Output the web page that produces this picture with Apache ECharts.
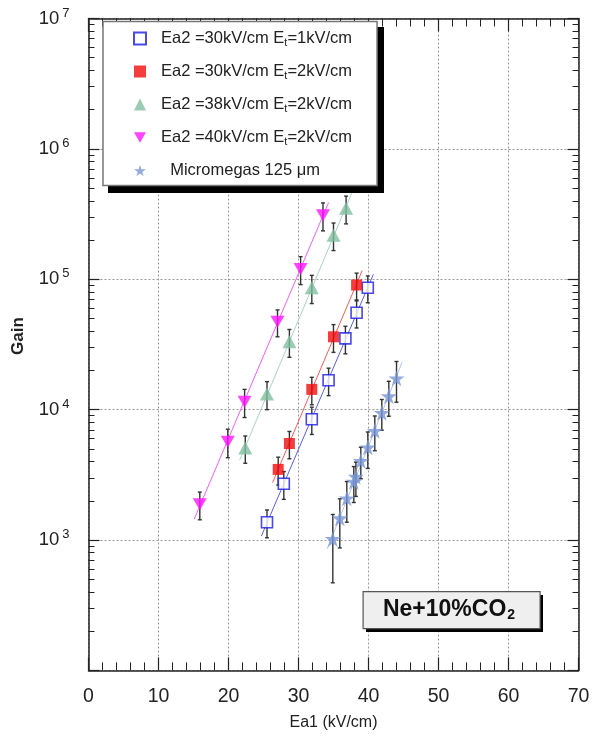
<!DOCTYPE html>
<html>
<head>
<meta charset="utf-8">
<script src="https://cdn.jsdelivr.net/npm/echarts@6/dist/echarts.min.js"></script>
<style>
  html, body { margin: 0; padding: 0; background: #fff; }
  #chart { width: 593px; height: 737px; }
</style>
</head>
<body>
<div id="chart"></div>
<script>
// 数据
var ea2_30_et1_x = [25.5, 27.9, 31.9, 34.3, 36.7, 38.3, 39.9];
var ea2_30_et1_y = [1370, 2700, 8450, 16800, 35200, 55300, 86000];
var ea2_30_et1_err = [330, 650, 2000, 4000, 8400, 13000, 20000];

var ea2_30_et2_x = [27.1, 28.7, 31.9, 35.0, 38.3];
var ea2_30_et2_y = [3480, 5500, 14300, 36200, 90400];
var ea2_30_et2_err = [840, 1300, 3400, 8700, 21000];

var ea2_38_et2_x = [22.4, 25.5, 28.7, 31.9, 35.0, 36.8];
var ea2_38_et2_y = [5080, 13200, 33200, 86100, 218000, 350000];
var ea2_38_et2_err = [1200, 3200, 8000, 21000, 52000, 84000];

var ea2_40_et2_x = [15.9, 19.9, 22.3, 27.0, 30.3, 33.5];
var ea2_40_et2_y = [1880, 5680, 11500, 47200, 120000, 310000];
var ea2_40_et2_err = [450, 1400, 2800, 11000, 29000, 75000];

var mm_x = [34.9, 35.9, 36.9, 37.9, 38.2, 38.9, 39.9, 40.9, 41.9, 42.9, 44.0];
var mm_y = [1020, 1470, 2090, 2800, 3060, 4050, 5140, 6890, 9460, 12700, 17400];
var mm_err = [550, 600, 720, 860, 900, 1100, 1600, 2050, 2500, 3800, 6000];

var xTicks = [0, 10, 20, 30, 40, 50, 60, 70];
var yMinor = [];
for (var d = 100; d < 1e7; d *= 10) {
    for (var m = 2; m <= 9; m++) yMinor.push(m * d);
}

var starPath = 'path://M50,0 L61,35 L98,35 L68,57 L79,91 L50,70 L21,91 L32,57 L2,35 L39,35 Z';
var downTri = 'path://M0,0 L100,0 L50,87 Z';

(function () {
    var myChart = echarts.init(document.getElementById('chart'));

    function pts(xs, ys) {
        return xs.map(function (x, i) { return [x, ys[i]]; });
    }
    function errs(xs, ys, es) {
        return xs.map(function (x, i) { return [x, ys[i] - es[i], ys[i] + es[i]]; });
    }
    // 指数拟合 (log10 线性回归)
    function fit(xs, ys) {
        var n = xs.length, sx = 0, sy = 0, sxx = 0, sxy = 0;
        for (var i = 0; i < n; i++) {
            var ly = Math.log10(ys[i]);
            sx += xs[i]; sy += ly; sxx += xs[i] * xs[i]; sxy += xs[i] * ly;
        }
        var b = (n * sxy - sx * sy) / (n * sxx - sx * sx);
        var a = (sy - b * sx) / n;
        var x0 = Math.min.apply(null, xs) - 0.8, x1 = Math.max.apply(null, xs) + 0.8;
        return [[x0, Math.pow(10, a + b * x0)], [x1, Math.pow(10, a + b * x1)]];
    }

    function errSeries(data) {
        return {
            type: 'custom',
            z: 3,
            silent: true,
            encode: { x: 0, y: [1, 2] },
            data: data,
            renderItem: function (params, api) {
                var lo = api.coord([api.value(0), api.value(1)]);
                var hi = api.coord([api.value(0), api.value(2)]);
                var st = { stroke: '#333', lineWidth: 1.4 };
                return {
                    type: 'group',
                    children: [
                        { type: 'line', shape: { x1: lo[0], y1: lo[1], x2: hi[0], y2: hi[1] }, style: st },
                        { type: 'line', shape: { x1: lo[0] - 2, y1: lo[1], x2: lo[0] + 2, y2: lo[1] }, style: st },
                        { type: 'line', shape: { x1: hi[0] - 2, y1: hi[1], x2: hi[0] + 2, y2: hi[1] }, style: st }
                    ]
                };
            }
        };
    }
    function fitSeries(xs, ys, color) {
        return {
            type: 'line',
            data: fit(xs, ys),
            symbol: 'none',
            silent: true,
            z: 2,
            lineStyle: { color: color, width: 1 }
        };
    }

    var names = [
        'Ea2 =30kV/cm {s|E}{sub|t}{s|=1kV/cm}',
        'Ea2 =30kV/cm {s|E}{sub|t}{s|=2kV/cm}',
        'Ea2 =38kV/cm {s|E}{sub|t}{s|=2kV/cm}',
        'Ea2 =40kV/cm {s|E}{sub|t}{s|=2kV/cm}',
        '  Micromegas 125 μm'
    ];
    var seriesNames = ['s1', 's2', 's3', 's4', 's5'];

    var font = 'Liberation Sans, Arial, Helvetica, sans-serif';
    var axisLineStyle = { color: '#222', width: 1.5 };
    var gridLine = { show: true, lineStyle: { color: '#999', type: [2, 2], width: 1 } };

    var option = {
        backgroundColor: '#fff',
        animation: false,
        textStyle: { fontFamily: font },
        grid: { left: 88.5, right: 14.5, top: 18.5, bottom: 66.6 },
        legend: {
            data: seriesNames,
            orient: 'vertical',
            left: 103,
            top: 21.5,
            padding: [8, 25, 6, 30],
            itemGap: 14,
            itemWidth: 12,
            itemHeight: 12,
            backgroundColor: '#fff',
            borderColor: '#777',
            borderWidth: 1.5,
            formatter: function (name) {
                return names[seriesNames.indexOf(name)];
            },
            textStyle: {
                fontFamily: font,
                fontSize: 16.5,
                color: '#222',
                lineHeight: 18,
                padding: [0, 0, 0, 10],
                rich: {
                    s: { fontSize: 16.5, color: '#222', fontFamily: font },
                    sub: { fontSize: 11, color: '#222', fontFamily: font, padding: [9, 0, 0, 0] }
                }
            },
            z: 10
        },
        graphic: [
            // 图例阴影
            { type: 'rect', left: 108, top: 27, shape: { width: 276, height: 166 }, style: { fill: '#000' }, z: 5 },
            // Gain
            { type: 'text', x: 18, y: 336, rotation: Math.PI / 2, z: 7,
              style: { text: 'Gain', fontSize: 17, fontWeight: 'bold', fill: '#222', fontFamily: font,
                       align: 'center', verticalAlign: 'middle' } },
            // Ne+10%CO2 标注框
            { type: 'rect', left: 366, top: 595, shape: { width: 177, height: 37 }, style: { fill: '#000' }, z: 5 },
            { type: 'rect', left: 362.5, top: 591, shape: { width: 177, height: 37 },
              style: { fill: '#efefef', stroke: '#555', lineWidth: 1.2 }, z: 6 },
            { type: 'text', x: 449, y: 610, z: 7,
              style: {
                  text: '{b|Ne+10%CO}{sub|2}',
                  align: 'center',
                  verticalAlign: 'middle',
                  rich: {
                      b: { fontSize: 23, fontWeight: 'bold', fill: '#111', fontFamily: font },
                      sub: { fontSize: 14, fontWeight: 'bold', fill: '#111', fontFamily: font, padding: [11, 0, 0, 1] }
                  }
              } }
        ],
        xAxis: [
            {
                type: 'value',
                min: 0, max: 70, interval: 10,
                name: 'Ea1 (kV/cm)',
                nameLocation: 'middle',
                nameGap: 44,
                nameTextStyle: { fontSize: 16, color: '#222', fontFamily: font },
                axisLine: { lineStyle: axisLineStyle },
                axisTick: { inside: true, length: 13, lineStyle: { color: '#222', width: 1.2 } },
                minorTick: { show: true, splitNumber: 5, length: 8, lineStyle: { color: '#222', width: 1 } },
                axisLabel: {
                    fontSize: 19.5, color: '#222', margin: 16,
                    customValues: xTicks
                },
                splitLine: gridLine
            },
            {
                type: 'value', position: 'top',
                min: 0, max: 70, interval: 10,
                axisLine: { lineStyle: axisLineStyle },
                axisTick: { inside: true, length: 13, lineStyle: { color: '#222', width: 1.2 } },
                minorTick: { show: true, splitNumber: 5, length: 8, lineStyle: { color: '#222', width: 1 } },
                axisLabel: { show: false },
                splitLine: { show: false }
            }
        ],
        yAxis: [
            {
                type: 'log', logBase: 10, min: 100, max: 1e7,
                axisLine: { lineStyle: axisLineStyle },
                axisTick: { inside: true, length: 11, lineStyle: { color: '#222', width: 1.2 } },
                axisLabel: {
                    margin: 19,
                    formatter: function (v) {
                        if (v < 1000) return '';
                        return '{b|10}{sup|' + Math.round(Math.log10(v)) + '}';
                    },
                    rich: {
                        b: { fontSize: 18.5, color: '#222', fontFamily: font },
                        sup: { fontSize: 13, color: '#222', fontFamily: font, padding: [0, 0, 11, 3] }
                    }
                },
                splitLine: gridLine
            },
            {
                type: 'log', logBase: 10, min: 100, max: 1e7, position: 'left',
                axisLine: { show: false },
                axisTick: { inside: true, length: 6, customValues: yMinor, lineStyle: { color: '#222', width: 1 } },
                axisLabel: { show: false },
                splitLine: { show: false }
            },
            {
                type: 'log', logBase: 10, min: 100, max: 1e7, position: 'right',
                axisLine: { lineStyle: axisLineStyle },
                axisTick: { inside: true, length: 11, lineStyle: { color: '#222', width: 1.2 } },
                axisLabel: { show: false },
                splitLine: { show: false }
            },
            {
                type: 'log', logBase: 10, min: 100, max: 1e7, position: 'right',
                axisLine: { show: false },
                axisTick: { inside: true, length: 6, customValues: yMinor, lineStyle: { color: '#222', width: 1 } },
                axisLabel: { show: false },
                splitLine: { show: false }
            }
        ],
        series: [
            fitSeries(ea2_30_et1_x, ea2_30_et1_y, '#5a5aff'),
            fitSeries(ea2_30_et2_x, ea2_30_et2_y, '#ff5a5a'),
            fitSeries(ea2_38_et2_x, ea2_38_et2_y, '#a9d6c0'),
            fitSeries(ea2_40_et2_x, ea2_40_et2_y, '#ff5aff'),
            fitSeries(mm_x, mm_y, '#b4c4ec'),
            errSeries(errs(ea2_30_et1_x, ea2_30_et1_y, ea2_30_et1_err)),
            errSeries(errs(ea2_30_et2_x, ea2_30_et2_y, ea2_30_et2_err)),
            errSeries(errs(ea2_38_et2_x, ea2_38_et2_y, ea2_38_et2_err)),
            errSeries(errs(ea2_40_et2_x, ea2_40_et2_y, ea2_40_et2_err)),
            errSeries(errs(mm_x, mm_y, mm_err)),
            {
                name: 's1', type: 'scatter', z: 4,
                symbol: 'rect', symbolSize: 11,
                itemStyle: { color: '#fff', borderColor: '#1a1ae6', borderWidth: 1.6 },
                data: pts(ea2_30_et1_x, ea2_30_et1_y)
            },
            {
                name: 's2', type: 'scatter', z: 4,
                symbol: 'rect', symbolSize: 11,
                itemStyle: { color: '#f20d0d' },
                data: pts(ea2_30_et2_x, ea2_30_et2_y)
            },
            {
                name: 's3', type: 'scatter', z: 4,
                symbol: 'triangle', symbolSize: [14, 13],
                itemStyle: { color: '#80bf9f' },
                data: pts(ea2_38_et2_x, ea2_38_et2_y)
            },
            {
                name: 's4', type: 'scatter', z: 4,
                symbol: downTri, symbolSize: [14, 12],
                itemStyle: { color: '#ff14ff' },
                data: pts(ea2_40_et2_x, ea2_40_et2_y)
            },
            {
                name: 's5', type: 'scatter', z: 4,
                symbol: starPath, symbolSize: 16,
                itemStyle: { color: '#7896d6' },
                data: pts(mm_x, mm_y)
            }
        ]
    };

    myChart.setOption(option);
    window.addEventListener('resize', function () {
        myChart.resize();
    });
})();
</script>
</body>
</html>
